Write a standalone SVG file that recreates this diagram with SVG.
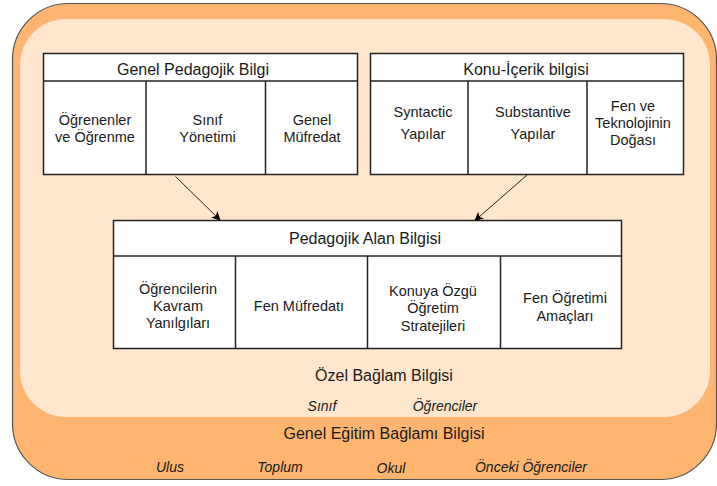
<svg xmlns="http://www.w3.org/2000/svg" width="717" height="486" viewBox="0 0 717 486">
  <defs>
    <marker id="arrow" viewBox="0 0 10 10" refX="9" refY="5" markerWidth="9" markerHeight="9" markerUnits="userSpaceOnUse" orient="auto">
      <path d="M0,0 L10,5 L0,10 L2.5,5 Z" fill="#000"/>
    </marker>
  </defs>
  <style>
    text { font-family: "Liberation Sans", Arial, sans-serif; fill: #1a1a1a; text-anchor: middle; }
    .head { font-size: 16px; }
    .cell { font-size: 14.5px; }
    .ctx { font-size: 16px; }
    .item { font-size: 14px; font-style: italic; }
    .box { fill: #ffffff; stroke: #222; stroke-width: 1.5; }
    .div { stroke: #222; stroke-width: 1.5; }
    .edge { stroke: #222; stroke-width: 1; fill: none; marker-end: url(#arrow); }
  </style>

  <!-- general educational context (outer) -->
  <g id="genel-egitim-baglami">
    <rect x="12.5" y="3.5" width="704" height="476" rx="56" ry="56" fill="#ffb570" stroke="#555" stroke-width="1.2"/>
    <text class="ctx" x="384" y="439">Genel Eğitim Bağlamı Bilgisi</text>
    <text class="item" x="170" y="472">Ulus</text>
    <text class="item" x="280" y="472">Toplum</text>
    <text class="item" x="391" y="473">Okul</text>
    <text class="item" x="531" y="472">Önceki Öğrenciler</text>
  </g>

  <!-- specific context (inner) -->
  <g id="ozel-baglam">
    <rect x="20" y="19" width="690" height="398" rx="46" ry="46" fill="#ffe6cc"/>
    <text class="ctx" x="384" y="381">Özel Bağlam Bilgisi</text>
    <text class="item" x="322" y="411">Sınıf</text>
    <text class="item" x="445" y="411">Öğrenciler</text>
  </g>

  <!-- general pedagogical knowledge -->
  <g id="genel-pedagojik-bilgi">
    <rect class="box" x="43.5" y="53.5" width="314" height="121"/>
    <line class="div" x1="43.5" y1="81" x2="357.5" y2="81"/>
    <line class="div" x1="146" y1="81" x2="146" y2="174.5"/>
    <line class="div" x1="265.5" y1="81" x2="265.5" y2="174.5"/>
    <text class="head" x="193" y="75">Genel Pedagojik Bilgi</text>
    <text class="cell" x="95" y="125">Öğrenenler</text>
    <text class="cell" x="95" y="142">ve Öğrenme</text>
    <text class="cell" x="207.5" y="125">Sınıf</text>
    <text class="cell" x="207.5" y="142">Yönetimi</text>
    <text class="cell" x="312" y="125">Genel</text>
    <text class="cell" x="312" y="142">Müfredat</text>
  </g>

  <!-- subject matter knowledge -->
  <g id="konu-icerik-bilgisi">
    <rect class="box" x="370.5" y="53.5" width="313" height="121"/>
    <line class="div" x1="370.5" y1="81" x2="683.5" y2="81"/>
    <line class="div" x1="468" y1="81" x2="468" y2="174.5"/>
    <line class="div" x1="587" y1="81" x2="587" y2="174.5"/>
    <text class="head" x="526" y="75">Konu-İçerik bilgisi</text>
    <text class="cell" x="423" y="117">Syntactic</text>
    <text class="cell" x="423" y="139">Yapılar</text>
    <text class="cell" x="533" y="117">Substantive</text>
    <text class="cell" x="533" y="139">Yapılar</text>
    <text class="cell" x="633" y="111">Fen ve</text>
    <text class="cell" x="633" y="128">Teknolojinin</text>
    <text class="cell" x="633" y="145">Doğası</text>
  </g>

  <!-- pedagogical content knowledge -->
  <g id="pedagojik-alan-bilgisi">
    <rect class="box" x="113.5" y="220.5" width="508" height="128"/>
    <line class="div" x1="113.5" y1="256" x2="621.5" y2="256"/>
    <line class="div" x1="235.5" y1="256" x2="235.5" y2="348.5"/>
    <line class="div" x1="367.5" y1="256" x2="367.5" y2="348.5"/>
    <line class="div" x1="500.5" y1="256" x2="500.5" y2="348.5"/>
    <text class="head" x="365" y="244">Pedagojik Alan Bilgisi</text>
    <text class="cell" x="178" y="294">Öğrencilerin</text>
    <text class="cell" x="178" y="311">Kavram</text>
    <text class="cell" x="178" y="328">Yanılgıları</text>
    <text class="cell" x="299" y="310.5">Fen Müfredatı</text>
    <text class="cell" x="433" y="296">Konuya Özgü</text>
    <text class="cell" x="433" y="313">Öğretim</text>
    <text class="cell" x="433" y="330.5">Stratejileri</text>
    <text class="cell" x="565" y="303">Fen Öğretimi</text>
    <text class="cell" x="565" y="320.5">Amaçları</text>
  </g>

  <!-- connectors -->
  <g id="connectors">
    <line class="edge" x1="175.5" y1="176.5" x2="220" y2="220"/>
    <line class="edge" x1="527" y1="175" x2="475" y2="220.5"/>
  </g>
</svg>
